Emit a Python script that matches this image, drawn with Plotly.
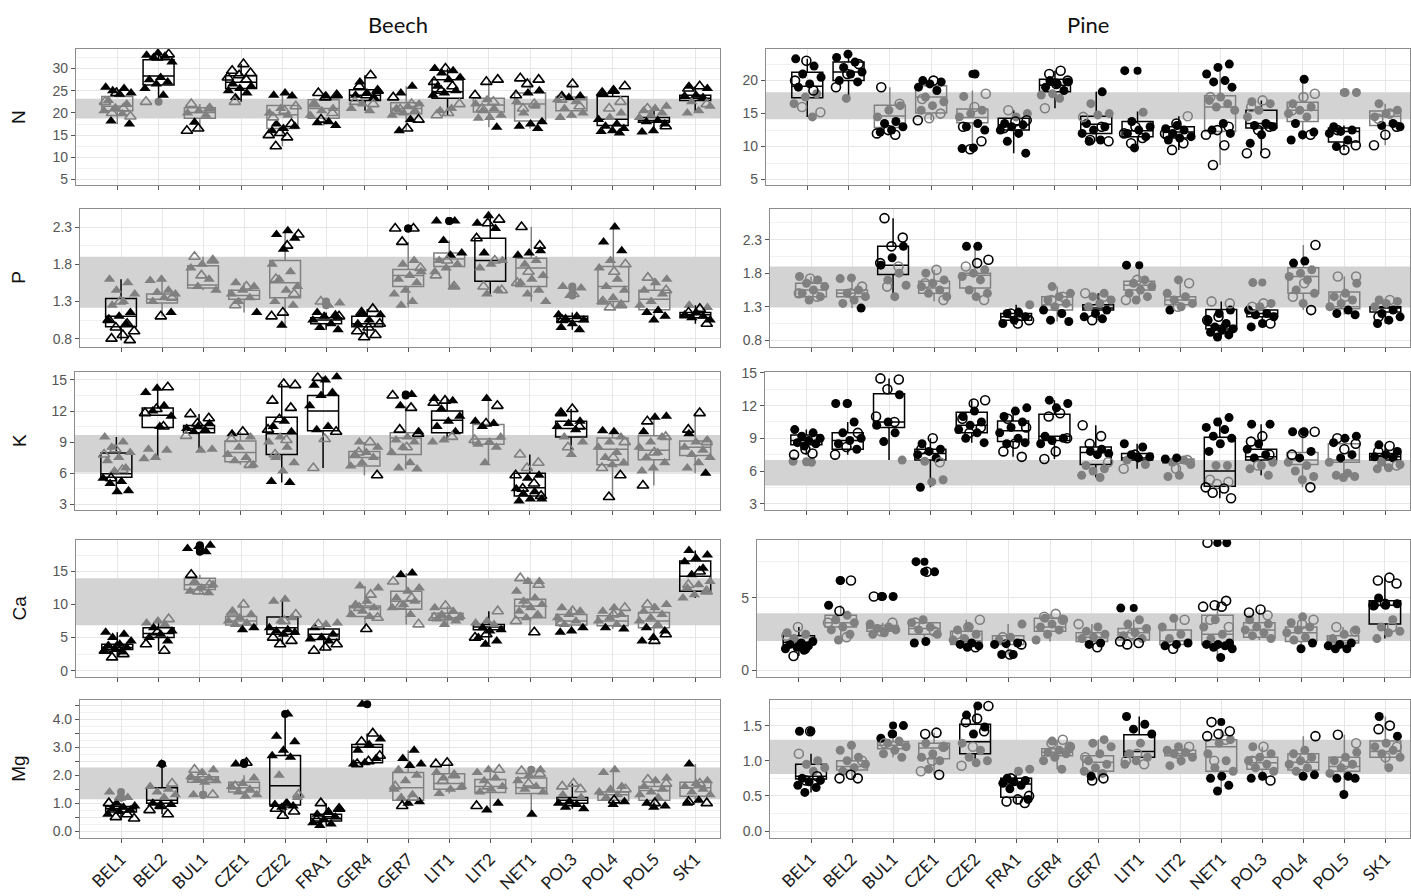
import plotly.graph_objects as go

# ---------------------------------------------------------------------------
# Foliar nutrient concentrations per site, beech and pine
# ---------------------------------------------------------------------------
SITES = ["BEL1", "BEL2", "BUL1", "CZE1", "CZE2", "FRA1", "GER4", "GER7",
         "LIT1", "LIT2", "NET1", "POL3", "POL4", "POL5", "SK1"]
ELEMENTS = ["N", "P", "K", "Ca", "Mg"]
SPECIES = ["Beech", "Pine"]

# reference range (lower, upper) per element and species
BANDS = {
    ("N", "Beech"): (18.75, 23.2), ("N", "Pine"): (14.15, 18.25),
    ("P", "Beech"): (1.215, 1.9), ("P", "Pine"): (1.29, 1.9),
    ("K", "Beech"): (6.07, 9.68), ("K", "Pine"): (4.66, 7.0),
    ("Ca", "Beech"): (6.85, 14.0), ("Ca", "Pine"): (2.03, 3.94),
    ("Mg", "Beech"): (1.14, 2.28), ("Mg", "Pine"): (0.81, 1.30),
}

# box statistics per site: lower whisker, Q1, median, Q3, upper whisker
N_BEECH_BOX = [[17.5, 20.5, 21.5, 23.7, 25.8], [23.5, 26.3, 28.3, 32.0, 33.5], [16.0, 18.8, 20.1, 21.2, 22.0],
               [22.5, 25.5, 26.9, 28.4, 31.0], [12.5, 16.5, 19.6, 21.7, 24.5], [17.2, 18.8, 21.0, 23.0, 24.5],
               [20.5, 22.8, 24.0, 25.2, 28.5], [16.0, 19.8, 21.0, 22.3, 26.0], [19.5, 23.3, 24.8, 27.5, 30.0],
               [16.8, 20.2, 21.8, 23.3, 27.5], [16.5, 18.2, 22.0, 24.5, 27.8], [19.0, 20.5, 23.0, 23.6, 26.5],
               [15.5, 17.2, 18.6, 23.7, 26.0], [15.7, 17.9, 18.3, 19.0, 21.5], [20.0, 22.8, 23.3, 24.0, 26.0]]
N_BEECH_FILLED = [[25.8, 25.5, 25.0, 24.5, 24.2, 22.8, 22.0, 21.2, 20.5, 19.8, 18.2, 17.5],
                  [33.5, 33.0, 32.8, 32.5, 31.5, 28.0, 27.5, 27.0, 26.5, 25.5, 24.0],
                  [21.0, 20.5, 20.0, 19.5, 17.9],
                  [26.5, 26.0, 25.5, 25.0, 24.5, 23.5],
                  [24.5, 24.0, 23.8, 21.0, 20.0, 19.5, 17.5, 17.0, 16.5, 16.0],
                  [24.0, 23.8, 22.0, 21.0, 20.5, 19.5, 18.0, 17.8, 17.2],
                  [27.0, 25.0, 24.5, 24.0, 23.5, 22.0, 21.0, 20.5],
                  [26.0, 24.5, 22.0, 21.5, 21.0, 20.5, 20.0, 19.5, 18.5, 16.0],
                  [30.0, 29.5, 29.0, 28.0, 27.5, 26.0, 25.0, 24.5, 24.0, 21.0, 20.5],
                  [23.0, 22.0, 21.0, 20.5, 19.5, 19.0, 18.8, 16.8],
                  [25.0, 24.5, 22.5, 21.5, 20.0, 18.0, 17.5, 17.0, 16.5],
                  [24.0, 23.8, 23.5, 23.0, 22.5, 21.0, 20.0, 19.5, 19.0],
                  [25.0, 24.5, 20.0, 19.0, 18.5, 17.5, 17.0, 16.5, 16.0, 15.8, 15.5],
                  [21.5, 21.0, 20.5, 20.0, 19.5, 19.0, 18.3, 18.0, 17.5, 16.0, 15.7],
                  [26.0, 25.5, 24.0, 23.8, 23.5, 22.5, 21.5, 20.5, 20.0]]
N_BEECH_OPEN = [[24.5, 22.5, 21.0, 20.0, 19.2], [33.2, 32.5, 22.5], [22.0, 21.0, 16.5, 16.0],
                [31.0, 29.5, 29.0, 28.5, 28.0, 27.5, 22.5], [21.5, 20.5, 19.0, 17.5, 15.5, 15.0, 14.5, 12.5],
                [24.5, 24.0, 23.5, 22.0, 20.0, 18.5], [28.5, 26.0, 25.0, 24.0, 22.5, 22.0],
                [23.5, 22.0, 20.8, 18.5, 16.5], [30.0, 27.0, 26.0, 25.0, 22.0, 20.0, 19.5],
                [27.5, 27.0, 24.0, 22.5, 21.0], [27.8, 27.5, 26.5, 24.0, 22.0, 21.0], [26.5, 23.0, 21.5],
                [26.0, 25.0, 24.5, 22.5, 21.0], [21.0, 17.0], [26.0, 25.5, 22.0]]

N_PINE_BOX = [[14.5, 17.4, 19.15, 21.25, 23.3], [17.3, 20.0, 21.3, 22.8, 24.0], [11.8, 12.9, 14.65, 16.25, 19.0],
              [14.0, 15.1, 17.5, 19.2, 20.0], [9.6, 13.6, 14.4, 15.7, 18.5], [9.0, 12.5, 13.3, 14.3, 15.5],
              [15.8, 18.3, 19.3, 20.2, 21.5], [10.8, 12.0, 13.4, 14.6, 18.3], [9.8, 11.5, 12.4, 13.8, 15.3],
              [9.5, 11.3, 12.2, 13.0, 14.6], [7.2, 12.3, 16.0, 17.7, 22.5], [9.0, 12.8, 13.5, 15.5, 17.0],
              [11.0, 13.8, 15.5, 16.7, 20.2], [9.5, 10.7, 12.3, 12.8, 13.2], [10.2, 13.2, 14.6, 15.4, 16.5]]
N_PINE_FILLED = [[23.3, 22.2, 21.0, 20.5, 19.5, 19.0, 18.0, 17.5, 16.5, 14.5],
                 [24.0, 23.5, 22.8, 22.0, 21.3, 21.0, 20.0, 19.8, 17.3],
                 [16.2, 15.5, 14.5, 13.8, 13.5, 13.0, 12.5, 12.2],
                 [20.0, 19.8, 19.5, 19.0, 18.5, 17.5, 16.8, 16.2, 15.5],
                 [21.0, 17.6, 15.5, 15.0, 14.5, 13.5, 13.0, 12.5, 9.8, 9.7],
                 [15.0, 14.5, 13.5, 13.3, 13.0, 12.5, 12.0, 10.8, 9.0],
                 [20.0, 19.8, 19.5, 19.0, 18.5, 18.0, 17.8, 17.3],
                 [18.3, 16.5, 15.0, 14.8, 13.5, 13.0, 12.5, 12.0, 11.0, 10.8],
                 [21.5, 15.2, 13.8, 13.0, 12.5, 12.0, 11.5, 9.8],
                 [13.2, 12.7, 12.5, 12.0, 11.5, 11.3, 11.0],
                 [22.5, 22.0, 21.0, 20.0, 19.8, 19.0, 17.5, 17.0, 16.5, 16.0, 15.5, 13.5, 12.5, 12.0],
                 [16.8, 16.5, 15.5, 14.5, 13.5, 13.2, 13.0, 11.8, 10.5],
                 [20.2, 16.5, 16.0, 15.5, 15.0, 14.5, 13.5, 12.2, 11.8, 11.0],
                 [18.2, 18.2, 13.0, 12.5, 12.3, 12.0, 11.0, 10.0],
                 [16.5, 15.5, 15.0, 14.5, 13.5, 13.2, 13.0]]
N_PINE_OPEN = [[23.0, 20.0, 18.5, 16.0, 15.2], [22.5, 21.0, 19.0], [19.0, 16.5, 12.5, 12.0, 11.8],
               [20.0, 17.2, 15.0, 14.3, 14.0], [18.0, 16.0, 13.0, 10.8, 9.6], [15.5, 14.0, 13.8, 12.8],
               [21.5, 21.0, 20.0, 19.5, 15.8], [14.5, 13.0, 11.0, 10.8], [13.0, 12.0, 11.3, 10.5],
               [14.6, 13.5, 12.0, 10.5, 9.5], [17.5, 13.0, 12.5, 11.8, 10.2, 7.2],
               [17.0, 16.0, 13.0, 12.5, 9.0, 9.0], [18.0, 17.5, 15.5, 11.8], [12.5, 10.2, 9.5],
               [15.0, 14.2, 13.0, 11.8, 10.2]]

P_BEECH_BOX = [[0.78, 0.96, 1.10, 1.34, 1.60], [1.10, 1.28, 1.33, 1.40, 1.60], [1.45, 1.48, 1.52, 1.78, 1.90],
               [1.15, 1.33, 1.38, 1.45, 1.55], [0.98, 1.35, 1.55, 1.85, 2.25], [0.92, 1.00, 1.05, 1.08, 1.15],
               [0.82, 0.96, 1.00, 1.10, 1.20], [1.22, 1.50, 1.65, 1.73, 2.10], [1.50, 1.77, 1.87, 1.95, 2.12],
               [1.40, 1.57, 1.85, 2.15, 2.45], [1.30, 1.50, 1.75, 1.88, 2.30], [0.92, 1.03, 1.07, 1.10, 1.15],
               [1.22, 1.30, 1.50, 1.77, 2.30], [1.05, 1.19, 1.33, 1.45, 1.62], [1.00, 1.08, 1.12, 1.15, 1.25]]
P_BEECH_FILLED = [[1.60, 1.55, 1.45, 1.40, 1.30, 1.25, 1.15, 1.10, 1.05, 1.00],
                  [1.60, 1.58, 1.45, 1.42, 1.40, 1.35, 1.30, 1.15],
                  [1.85, 1.80, 1.75, 1.60, 1.50, 1.45],
                  [1.55, 1.50, 1.45, 1.40, 1.35, 1.30, 1.15],
                  [2.25, 2.20, 2.15, 2.00, 1.80, 1.70, 1.60, 1.50, 1.45, 1.30, 1.25, 0.98],
                  [1.28, 1.25, 1.15, 1.12, 1.10, 1.05, 1.00, 0.95, 0.92],
                  [1.15, 1.12, 1.05, 1.00],
                  [1.85, 1.80, 1.70, 1.65, 1.60, 1.55, 1.45, 1.40, 1.30, 1.25],
                  [2.38, 2.38, 2.12, 1.95, 1.92, 1.85, 1.80, 1.75, 1.70, 1.50],
                  [2.45, 2.35, 2.28, 1.95, 1.85, 1.80, 1.75, 1.45, 1.40],
                  [1.98, 1.95, 1.92, 1.85, 1.80, 1.65, 1.60, 1.55, 1.45, 1.40, 1.30],
                  [1.50, 1.48, 1.38, 1.12, 1.10, 1.07, 1.05, 1.00, 0.95, 0.92],
                  [2.30, 2.10, 1.98, 1.85, 1.75, 1.60, 1.50, 1.45, 1.35, 1.30, 1.25],
                  [1.60, 1.55, 1.45, 1.40, 1.30, 1.25, 1.18, 1.15, 1.10, 1.05],
                  [1.25, 1.22, 1.15, 1.12, 1.10, 1.08, 1.05]]
P_BEECH_OPEN = [[1.30, 1.05, 1.00, 0.95, 0.90, 0.85, 0.80, 0.78], [1.35, 1.10], [1.90, 1.85, 1.65],
                [1.50, 1.25], [2.20, 2.05, 1.60, 1.40, 1.15, 1.10], [1.30, 1.10],
                [1.20, 1.15, 1.00, 0.95, 0.90, 0.85, 0.82], [2.28, 2.28, 2.10, 1.75], [1.85, 1.65, 1.50],
                [2.40, 2.35, 2.15, 1.85, 1.50, 1.45], [2.30, 2.05, 1.70, 1.55], [1.40, 1.05],
                [1.80, 1.70, 1.30, 1.25, 1.22], [1.62, 1.45], [1.20, 1.15, 1.00]]

P_PINE_BOX = [[1.37, 1.45, 1.55, 1.65, 1.75], [1.28, 1.45, 1.50, 1.55, 1.73], [1.45, 1.78, 1.92, 2.20, 2.62],
              [1.38, 1.50, 1.58, 1.68, 1.85], [1.40, 1.58, 1.77, 1.80, 2.20], [1.03, 1.10, 1.15, 1.20, 1.33],
              [1.08, 1.25, 1.33, 1.45, 1.60], [1.10, 1.25, 1.28, 1.33, 1.50], [1.40, 1.55, 1.62, 1.68, 1.88],
              [1.25, 1.33, 1.40, 1.45, 1.70], [0.85, 0.97, 1.02, 1.26, 1.38], [1.00, 1.15, 1.20, 1.25, 1.35],
              [1.25, 1.50, 1.75, 1.88, 2.22], [1.18, 1.27, 1.30, 1.52, 1.75], [1.05, 1.22, 1.28, 1.30, 1.40]]
P_PINE_FILLED = [[1.75, 1.70, 1.65, 1.60, 1.55, 1.50, 1.45, 1.40],
                 [1.73, 1.72, 1.55, 1.50, 1.45, 1.40, 1.35, 1.28],
                 [2.20, 2.03, 1.92, 1.80, 1.70, 1.62, 1.45],
                 [1.80, 1.70, 1.65, 1.60, 1.55, 1.50, 1.45],
                 [2.20, 2.20, 1.85, 1.80, 1.75, 1.70, 1.55, 1.50, 1.45],
                 [1.33, 1.22, 1.20, 1.15, 1.10, 1.05],
                 [1.60, 1.50, 1.45, 1.40, 1.35, 1.30, 1.25, 1.20, 1.10, 1.08],
                 [1.50, 1.45, 1.40, 1.35, 1.30, 1.25, 1.20, 1.15, 1.12],
                 [1.92, 1.70, 1.65, 1.60, 1.55, 1.50, 1.45, 1.40],
                 [1.70, 1.50, 1.45, 1.40, 1.35, 1.30, 1.25],
                 [1.25, 1.20, 1.10, 1.05, 1.00, 0.97, 0.95, 0.92, 0.88, 0.85],
                 [1.66, 1.35, 1.30, 1.25, 1.20, 1.18, 1.15, 1.05, 1.00],
                 [1.98, 1.95, 1.85, 1.80, 1.75, 1.70, 1.55, 1.50, 1.35],
                 [1.65, 1.50, 1.45, 1.40, 1.35, 1.30, 1.25, 1.20, 1.18],
                 [1.40, 1.38, 1.35, 1.30, 1.25, 1.20, 1.15, 1.10, 1.05]]
P_PINE_OPEN = [[1.72, 1.50, 1.45], [1.60, 1.50], [2.62, 2.33, 2.20, 1.95, 1.90, 1.60], [1.85, 1.65, 1.40],
               [2.00, 1.95, 1.90, 1.40], [1.20, 1.10, 1.05], [1.45, 1.40], [1.50, 1.45, 1.10], [1.70, 1.40],
               [1.65, 1.30], [1.38, 1.35, 1.15, 1.10, 1.00], [1.35, 1.30, 1.05], [2.22, 1.65, 1.45, 1.25],
               [1.75, 1.75, 1.45], [1.40, 1.15]]

K_BEECH_BOX = [[4.2, 5.6, 5.95, 7.95, 9.5], [7.4, 10.4, 11.6, 12.3, 14.3], [8.2, 9.9, 10.3, 10.6, 11.7],
               [6.8, 7.1, 8.0, 9.1, 10.0], [5.1, 7.8, 9.8, 11.4, 14.6], [6.5, 10.1, 12.0, 13.5, 15.3],
               [5.8, 6.7, 7.5, 8.1, 9.0], [6.4, 7.8, 9.4, 9.9, 12.5], [9.0, 9.9, 11.1, 12.0, 13.2],
               [7.0, 8.8, 9.3, 10.7, 13.2], [3.3, 3.8, 4.6, 6.0, 7.8], [7.8, 9.5, 10.3, 11.0, 12.2],
               [3.7, 6.8, 8.3, 9.4, 10.1], [4.8, 7.3, 8.2, 9.6, 11.5], [6.0, 7.7, 8.5, 9.1, 11.8]]
K_BEECH_FILLED = [[9.5, 9.0, 8.5, 8.0, 7.5, 7.2, 6.5, 6.2, 5.5, 5.2, 5.0, 4.3, 4.2],
                  [14.2, 13.8, 12.5, 12.0, 11.5, 10.5, 8.3, 8.2, 7.5, 7.4],
                  [10.8, 10.5, 10.3, 10.2, 10.0, 8.3, 8.2],
                  [9.8, 9.5, 8.5, 7.8, 7.5, 7.2, 6.8],
                  [11.0, 10.5, 10.0, 9.5, 9.0, 8.5, 7.5, 7.0, 6.2, 5.2, 5.1],
                  [15.3, 15.0, 14.5, 13.8, 13.5, 12.5, 10.5, 10.2],
                  [9.0, 8.5, 8.0, 7.8, 7.5, 7.0, 6.7],
                  [13.6, 12.5, 10.0, 9.5, 9.2, 9.0, 8.5, 8.0, 7.0, 6.5, 6.4],
                  [13.2, 13.0, 12.2, 11.5, 11.0, 10.5, 10.0, 9.2, 9.0],
                  [13.2, 11.0, 10.8, 10.5, 9.5, 9.0, 8.8, 8.5, 7.0],
                  [5.8, 5.5, 4.5, 4.2, 4.0, 3.5, 3.5, 3.3],
                  [11.8, 11.0, 10.8, 10.5, 10.2, 9.5, 9.0, 7.8],
                  [10.0, 10.1, 9.5, 9.0, 8.5, 8.0, 7.5, 7.0, 6.8],
                  [11.5, 11.4, 10.0, 9.5, 9.0, 8.5, 8.0, 7.5, 7.0, 6.5, 6.2],
                  [9.8, 9.2, 9.0, 8.5, 8.2, 7.8, 7.5, 7.0, 6.5, 6.0]]
K_BEECH_OPEN = [[8.3, 7.8, 6.3, 5.5], [14.3, 12.2, 11.8, 10.5], [11.7, 11.3, 10.8, 9.6], [10.0, 9.3, 6.8],
                [14.5, 14.6, 13.0, 12.3, 11.2, 10.2, 9.2, 7.8], [15.2, 10.0, 9.3, 6.5], [9.0, 8.0, 5.8],
                [13.5, 12.3, 10.2, 9.8, 8.5], [13.0, 12.8, 9.5], [12.5, 10.8, 9.2],
                [7.8, 7.0, 6.5, 5.8, 5.0, 4.5, 3.8], [12.2, 11.8, 10.5, 8.5], [9.0, 7.5, 6.5, 5.8, 3.7],
                [11.0, 9.5, 8.0, 4.8], [11.8, 10.2, 9.0]]

K_PINE_BOX = [[7.5, 8.4, 8.8, 9.3, 9.8], [7.5, 8.0, 8.8, 9.5, 10.5], [7.0, 10.0, 10.5, 13.1, 14.5],
              [4.5, 7.0, 7.6, 8.0, 9.0], [8.6, 9.5, 10.2, 11.4, 12.5], [7.3, 8.7, 9.7, 10.6, 11.8],
              [7.1, 8.8, 9.2, 11.2, 12.5], [5.4, 6.6, 7.7, 8.2, 10.2], [6.2, 7.0, 7.2, 7.6, 8.5],
              [5.5, 6.7, 7.0, 7.1, 7.2], [3.5, 4.6, 6.0, 9.1, 10.9], [5.6, 7.0, 7.3, 8.0, 10.3],
              [4.5, 6.6, 7.0, 7.7, 9.6], [5.4, 6.8, 7.0, 8.5, 9.2], [6.2, 7.0, 7.3, 7.6, 8.4]]
K_PINE_FILLED = [[9.8, 9.5, 9.2, 9.0, 8.8, 8.6, 8.5, 8.3, 6.9, 6.8],
                 [12.2, 12.2, 10.5, 9.5, 9.0, 8.8, 8.5, 8.0],
                 [13.0, 10.5, 10.2, 9.5, 8.7, 7.0],
                 [8.5, 8.0, 7.8, 7.5, 7.2, 6.9, 5.2, 5.0, 4.5],
                 [11.5, 11.0, 10.5, 10.2, 9.8, 9.5, 9.0, 8.6],
                 [11.8, 11.5, 11.0, 10.5, 10.0, 9.5, 9.0, 8.5, 8.6],
                 [12.5, 12.2, 11.8, 9.2, 9.0, 8.8, 8.5],
                 [8.0, 7.8, 7.6, 7.5, 6.5, 6.2, 6.0, 5.6, 5.4],
                 [8.5, 8.2, 7.5, 7.3, 7.2, 7.0, 6.6],
                 [7.2, 7.1, 7.0, 6.8, 6.6, 5.6, 5.5],
                 [10.9, 10.5, 10.0, 9.8, 9.2, 9.0, 8.5, 7.8, 6.5, 6.5],
                 [10.3, 10.3, 8.5, 8.0, 7.5, 7.2, 6.8, 6.5, 6.2, 5.6],
                 [9.6, 9.6, 7.8, 7.2, 6.8, 6.5, 6.0, 5.5, 5.2],
                 [9.2, 9.0, 8.6, 7.5, 7.2, 6.8, 5.8, 5.6, 5.5, 5.4],
                 [8.4, 7.8, 7.5, 7.3, 7.2, 6.8, 6.6, 6.3, 6.2]]
K_PINE_OPEN = [[8.0, 7.5, 7.6], [9.5, 8.2, 7.5], [14.5, 14.4, 13.5, 11.0, 10.5], [9.0, 8.0, 6.8],
               [12.5, 12.2, 10.8, 10.0, 9.5], [10.8, 10.0, 8.5, 7.8, 7.3], [11.3, 11.0, 9.0, 7.8, 7.1],
               [10.2, 9.2, 8.5, 6.8], [7.5, 6.2], [7.0, 6.2], [5.2, 5.0, 4.8, 4.5, 4.4, 4.0, 3.5],
               [9.2, 8.7, 7.5, 6.5], [9.6, 9.5, 7.5, 4.5], [9.0, 8.5, 8.0], [8.3, 7.8, 6.5]]

CA_BEECH_BOX = [[2.0, 3.2, 3.5, 4.0, 5.8], [3.0, 5.0, 5.6, 6.5, 7.8], [11.8, 12.3, 13.0, 14.0, 14.5],
                [6.2, 6.9, 7.5, 8.2, 10.0], [4.0, 5.5, 6.5, 8.1, 10.8], [3.0, 4.7, 5.5, 6.3, 7.2],
                [6.3, 8.2, 9.5, 9.8, 12.8], [7.0, 9.3, 10.5, 12.0, 14.8], [7.0, 7.7, 8.0, 8.7, 9.8],
                [4.0, 6.2, 6.6, 7.0, 9.0], [5.8, 8.0, 9.8, 10.8, 14.0], [5.8, 6.9, 7.5, 8.5, 9.5],
                [6.3, 6.8, 7.5, 8.3, 9.5], [4.5, 6.5, 7.5, 8.8, 10.2], [11.0, 12.0, 14.3, 16.6, 18.2]]
CA_BEECH_FILLED = [[5.8, 5.5, 5.0, 4.5, 4.0, 3.8, 3.5, 3.2, 3.0, 2.8],
                   [7.5, 7.2, 7.0, 6.5, 6.0, 5.5, 5.0, 4.5],
                   [19.0, 18.8, 18.5, 18.0, 13.5, 13.0, 12.5, 12.0, 11.8],
                   [9.0, 8.5, 8.0, 7.5, 7.2, 7.0, 6.5, 6.2],
                   [10.8, 10.5, 8.0, 7.5, 6.5, 6.2, 6.0, 5.8, 5.5],
                   [7.2, 7.0, 6.5, 5.5, 5.0, 4.8, 4.5],
                   [12.8, 12.5, 10.5, 10.0, 9.5, 9.0, 8.5, 8.2],
                   [14.8, 14.5, 12.5, 12.0, 11.0, 10.5, 10.0, 9.5, 8.5],
                   [9.5, 9.0, 8.5, 8.2, 8.0, 7.8, 7.5, 7.0],
                   [7.5, 7.2, 7.0, 6.5, 6.2, 6.0, 5.0, 4.5, 4.0],
                   [13.5, 13.5, 12.0, 11.0, 10.5, 10.0, 9.5, 9.0, 8.5, 8.0],
                   [9.5, 9.0, 8.5, 8.0, 7.5, 7.0, 6.5, 6.0, 5.8],
                   [9.5, 9.0, 8.5, 8.0, 7.5, 7.0, 6.5, 6.3],
                   [10.0, 9.5, 9.0, 8.5, 8.0, 7.5, 7.0, 6.5, 6.0, 5.0, 4.5],
                   [18.2, 17.5, 17.0, 16.5, 15.5, 14.5, 13.5, 13.0, 12.5, 12.0, 11.5, 11.0]]
CA_BEECH_OPEN = [[3.5, 3.0, 2.5, 2.0], [7.8, 5.8, 4.0, 3.0], [14.5, 13.0, 12.0], [10.0, 8.8],
                 [8.5, 7.5, 5.0, 4.5, 4.0], [7.0, 4.0, 3.5, 3.0], [11.5, 9.5, 8.0, 6.3],
                 [13.5, 11.0, 9.8, 7.0], [9.8, 8.0], [9.0, 5.5, 5.0], [14.0, 13.0, 10.0, 7.5, 5.8],
                 [9.0, 7.2], [9.5, 8.5], [10.0, 5.5, 4.5], [15.0, 13.0, 12.0]]

CA_PINE_BOX = [[1.0, 1.8, 1.95, 2.4, 3.0], [2.1, 3.0, 3.3, 3.8, 4.5], [2.5, 2.7, 2.9, 3.1, 3.3],
               [1.9, 2.5, 2.9, 3.3, 3.5], [1.6, 1.8, 2.05, 2.7, 3.5], [1.1, 1.8, 2.05, 2.4, 3.2],
               [2.0, 2.7, 3.0, 3.6, 3.9], [1.6, 2.0, 2.3, 2.6, 3.2], [1.8, 2.1, 2.6, 2.9, 3.5],
               [1.5, 1.8, 2.05, 2.8, 3.6], [0.9, 1.8, 2.5, 3.8, 4.8], [2.1, 2.3, 2.8, 3.3, 4.2],
               [1.5, 2.0, 2.6, 3.0, 3.7], [1.5, 1.9, 2.05, 2.4, 3.0], [2.2, 3.2, 4.5, 4.8, 6.4]]
CA_PINE_FILLED = [[2.6, 2.5, 2.2, 2.0, 1.9, 1.8, 1.7, 1.6, 1.5, 1.4],
                  [6.2, 4.5, 3.8, 3.5, 3.3, 3.0, 2.8, 2.5, 2.1],
                  [5.1, 5.1, 3.2, 3.0, 2.9, 2.8, 2.6, 2.5],
                  [7.5, 6.8, 3.5, 3.3, 3.0, 2.8, 2.5, 2.0, 1.9],
                  [3.0, 2.8, 2.5, 2.2, 2.1, 1.9, 1.8, 1.7, 1.6],
                  [3.2, 2.3, 2.1, 1.9, 1.85, 1.8, 1.1, 1.1],
                  [3.6, 3.5, 3.2, 3.0, 2.8, 2.5, 2.1],
                  [3.0, 2.7, 2.5, 2.3, 2.2, 1.9, 1.8],
                  [4.3, 3.5, 3.2, 2.9, 2.6, 2.4, 2.2],
                  [3.6, 3.0, 2.5, 2.2, 1.9, 1.8, 1.7],
                  [8.8, 3.5, 3.0, 2.5, 2.2, 1.9, 1.8, 1.8, 1.7, 1.6, 1.5, 0.9],
                  [3.5, 3.2, 3.0, 2.8, 2.6, 2.4, 2.2],
                  [3.7, 3.3, 3.0, 2.8, 2.6, 2.3, 2.1, 1.9, 1.5],
                  [2.8, 2.5, 2.2, 1.9, 1.8, 1.7, 1.5, 1.5],
                  [5.0, 4.6, 4.5, 4.5, 3.5, 3.0, 2.7, 2.6, 2.2]]
CA_PINE_OPEN = [[3.0, 2.4, 1.5, 1.0], [6.2, 4.1, 3.3, 2.3], [5.1, 3.3, 2.7], [6.8, 3.3, 2.7],
                [3.5, 3.0, 2.5, 1.6], [2.3, 1.8, 1.1], [3.9, 3.7, 3.5], [3.2, 1.6], [2.5, 2.0, 1.9, 1.8],
                [3.5, 1.5], [8.8, 4.8, 4.5, 4.4, 4.4, 3.5, 3.0], [4.2, 4.0, 3.8], [3.5, 3.2], [3.0, 2.7],
                [6.4, 6.2, 6.0, 4.6, 4.5, 3.0]]

MG_BEECH_BOX = [[0.45, 0.68, 0.80, 0.88, 1.0], [0.6, 1.0, 1.1, 1.55, 2.3], [1.4, 1.75, 1.85, 1.95, 2.2],
                [1.25, 1.4, 1.55, 1.75, 2.0], [0.55, 0.93, 1.62, 2.71, 4.15], [0.2, 0.36, 0.45, 0.6, 1.0],
                [2.4, 2.45, 3.0, 3.1, 3.5], [0.9, 1.1, 1.55, 2.1, 2.9], [1.35, 1.5, 1.7, 2.05, 2.45],
                [0.75, 1.38, 1.6, 1.85, 2.2], [0.6, 1.35, 1.55, 1.9, 2.15], [0.8, 1.0, 1.1, 1.2, 1.7],
                [0.95, 1.1, 1.3, 1.4, 2.2], [0.85, 1.1, 1.45, 1.6, 1.9], [1.0, 1.25, 1.55, 1.75, 2.4]]
MG_BEECH_FILLED = [[1.4, 1.2, 1.0, 0.9, 0.85, 0.8, 0.75, 0.7, 0.6],
                   [2.4, 1.6, 1.5, 1.4, 1.3, 1.2, 1.0, 0.95, 0.9],
                   [2.2, 2.1, 1.95, 1.9, 1.85, 1.8, 1.75, 1.3],
                   [2.4, 1.9, 1.7, 1.6, 1.5, 1.4, 1.3, 1.25],
                   [4.2, 3.4, 3.2, 2.9, 2.7, 2.65, 2.0, 1.2, 1.0, 0.95, 0.9, 0.85],
                   [0.8, 0.7, 0.6, 0.5, 0.4, 0.3, 0.25, 0.2],
                   [4.55, 3.3, 3.1, 2.9, 2.6, 2.45, 2.4],
                   [2.9, 2.6, 2.4, 2.35, 2.2, 2.0, 1.8, 1.5, 1.3, 1.2, 1.05, 1.0],
                   [2.1, 2.0, 1.9, 1.6, 1.5, 1.35],
                   [2.2, 2.1, 1.9, 1.8, 1.6, 1.5, 1.4, 1.0, 0.75],
                   [2.2, 2.0, 1.8, 1.6, 1.5, 1.4, 0.6],
                   [1.3, 1.2, 1.05, 1.0, 0.95, 0.85, 0.8],
                   [2.2, 2.1, 1.6, 1.5, 1.4, 1.3, 1.2, 1.05, 0.95],
                   [1.9, 1.8, 1.6, 1.5, 1.4, 1.3, 1.2, 1.0, 0.9, 0.85],
                   [2.4, 1.8, 1.7, 1.6, 1.5, 1.4, 1.3, 1.1, 1.0]]
MG_BEECH_OPEN = [[1.2, 1.0, 0.6, 0.5, 0.45], [1.7, 0.9, 0.75, 0.6], [2.2, 1.3], [2.45, 1.6],
                 [1.3, 0.95, 0.8, 0.7, 0.55], [1.0, 0.8, 0.6, 0.4], [3.5, 3.2, 2.7, 2.5, 2.4],
                 [1.6, 1.2, 0.9], [2.45, 2.4, 2.0, 1.8], [2.2, 1.6, 0.9], [2.15, 2.05, 1.7],
                 [1.7, 1.6, 1.5, 1.0], [1.5, 1.1], [1.85, 1.7, 1.0], [1.7, 1.05, 1.0]]

MG_PINE_BOX = [[0.55, 0.74, 0.78, 0.95, 1.1], [0.75, 0.87, 0.92, 1.0, 1.22], [1.05, 1.17, 1.22, 1.27, 1.32],
               [0.8, 1.03, 1.18, 1.25, 1.4], [0.93, 1.1, 1.27, 1.52, 1.78], [0.4, 0.48, 0.67, 0.75, 0.9],
               [0.88, 1.07, 1.12, 1.17, 1.3], [0.72, 0.85, 0.98, 1.07, 1.3], [0.95, 1.05, 1.13, 1.37, 1.63],
               [0.93, 1.07, 1.1, 1.15, 1.2], [0.57, 0.85, 1.2, 1.3, 1.45], [0.72, 0.88, 0.97, 1.05, 1.2],
               [0.78, 0.87, 0.98, 1.1, 1.35], [0.52, 0.85, 0.92, 1.05, 1.37], [0.9, 1.05, 1.13, 1.28, 1.63]]
MG_PINE_FILLED = [[1.42, 1.0, 0.95, 0.9, 0.85, 0.75, 0.72, 0.7, 0.65, 0.62, 0.55],
                  [1.22, 1.15, 1.05, 1.0, 0.95, 0.9, 0.85],
                  [1.5, 1.38, 1.32, 1.28, 1.25, 1.2, 1.15, 1.1, 1.05],
                  [1.25, 1.2, 1.1, 1.05, 1.0, 0.88],
                  [1.78, 1.65, 1.48, 1.38, 1.25, 1.15, 1.05, 1.0, 0.97],
                  [0.88, 0.85, 0.75, 0.72, 0.7, 0.68, 0.65, 0.6, 0.45],
                  [1.28, 1.2, 1.15, 1.12, 1.1, 1.05, 1.0, 0.88],
                  [1.3, 1.25, 1.2, 1.1, 1.0, 0.95, 0.9, 0.85, 0.82, 0.78],
                  [1.63, 1.52, 1.45, 1.38, 1.25, 1.1, 1.05, 1.0, 0.95],
                  [1.2, 1.15, 1.12, 1.1, 1.05, 1.0, 0.93],
                  [1.3, 1.25, 1.1, 1.0, 0.9, 0.85, 0.78, 0.75, 0.65, 0.57],
                  [1.2, 1.1, 1.05, 1.0, 0.95, 0.9, 0.85, 0.78, 0.75],
                  [1.15, 1.1, 1.05, 1.0, 0.95, 0.9, 0.85, 0.8, 0.78],
                  [1.12, 1.05, 1.0, 0.95, 0.9, 0.82, 0.78, 0.75, 0.75, 0.52],
                  [1.63, 1.35, 1.25, 1.2, 1.15, 1.1, 1.05, 0.9]]
MG_PINE_OPEN = [[1.42, 1.1, 0.78, 0.72], [1.0, 0.8, 0.75, 0.75], [1.25], [1.4, 1.38, 1.2, 1.0, 0.85, 0.8],
                [1.78, 1.6, 1.55, 1.42, 1.2, 0.93], [0.75, 0.5, 0.45, 0.42, 0.4], [1.3, 1.25, 1.2],
                [1.05, 0.75, 0.72], [1.1, 1.0, 0.95], [1.2, 1.1], [1.55, 1.42, 1.38, 1.35, 1.3, 1.0],
                [1.2, 1.0, 0.72], [1.35, 1.05], [1.37, 1.25, 0.95], [1.5, 1.45, 1.2, 1.05]]

DATA = {
    ("N", "Beech"): (N_BEECH_BOX, N_BEECH_FILLED, N_BEECH_OPEN),
    ("N", "Pine"): (N_PINE_BOX, N_PINE_FILLED, N_PINE_OPEN),
    ("P", "Beech"): (P_BEECH_BOX, P_BEECH_FILLED, P_BEECH_OPEN),
    ("P", "Pine"): (P_PINE_BOX, P_PINE_FILLED, P_PINE_OPEN),
    ("K", "Beech"): (K_BEECH_BOX, K_BEECH_FILLED, K_BEECH_OPEN),
    ("K", "Pine"): (K_PINE_BOX, K_PINE_FILLED, K_PINE_OPEN),
    ("Ca", "Beech"): (CA_BEECH_BOX, CA_BEECH_FILLED, CA_BEECH_OPEN),
    ("Ca", "Pine"): (CA_PINE_BOX, CA_PINE_FILLED, CA_PINE_OPEN),
    ("Mg", "Beech"): (MG_BEECH_BOX, MG_BEECH_FILLED, MG_BEECH_OPEN),
    ("Mg", "Pine"): (MG_PINE_BOX, MG_PINE_FILLED, MG_PINE_OPEN),
}

# boxes drawn dark regardless of where their median falls
DARK_BOXES = {("P", "Beech"): {"LIT2"}, ("K", "Pine"): {"NET1"},
              ("Mg", "Beech"): {"CZE2"}, ("Mg", "Pine"): {"CZE2", "LIT1"}}

# ---------------------------------------------------------------------------
# axis settings
# ---------------------------------------------------------------------------
Y_RANGE = {
    ("N", "Beech"): [3.73, 34.5], ("N", "Pine"): [4.15, 24.85],
    ("P", "Beech"): [0.694, 2.543], ("P", "Pine"): [0.707, 2.757],
    ("K", "Beech"): [2.45, 15.74], ("K", "Pine"): [2.43, 15.06],
    ("Ca", "Beech"): [-1.0, 19.84], ("Ca", "Pine"): [-0.46, 9.02],
    ("Mg", "Beech"): [-0.235, 4.70], ("Mg", "Pine"): [-0.093, 1.865],
}
Y_MAJOR = {
    ("N", "Beech"): [5, 10, 15, 20, 25, 30], ("N", "Pine"): [5, 10, 15, 20],
    ("P", "Beech"): [0.8, 1.3, 1.8, 2.3], ("P", "Pine"): [0.8, 1.3, 1.8, 2.3],
    ("K", "Beech"): [3, 6, 9, 12, 15], ("K", "Pine"): [3, 6, 9, 12, 15],
    ("Ca", "Beech"): [0, 5, 10, 15], ("Ca", "Pine"): [0, 5],
    ("Mg", "Beech"): [0, 0.5, 1, 1.5, 2, 2.5, 3, 3.5, 4, 4.5], ("Mg", "Pine"): [0, 0.5, 1.0, 1.5],
}
Y_LABELS = {
    ("N", "Beech"): ["5", "10", "15", "20", "25", "30"], ("N", "Pine"): ["5", "10", "15", "20"],
    ("P", "Beech"): ["0.8", "1.3", "1.8", "2.3"], ("P", "Pine"): ["0.8", "1.3", "1.8", "2.3"],
    ("K", "Beech"): ["3", "6", "9", "12", "15"], ("K", "Pine"): ["3", "6", "9", "12", "15"],
    ("Ca", "Beech"): ["0", "5", "10", "15"], ("Ca", "Pine"): ["0", "5"],
    ("Mg", "Beech"): ["0.0", "", "1.0", "", "2.0", "", "3.0", "", "4.0", ""],
    ("Mg", "Pine"): ["0.0", "0.5", "1.0", "1.5"],
}
Y_MINOR = {
    ("N", "Beech"): [7.5, 12.5, 17.5, 22.5, 27.5, 32.5], ("N", "Pine"): [7.5, 12.5, 17.5, 22.5],
    ("P", "Beech"): [1.05, 1.55, 2.05], ("P", "Pine"): [1.05, 1.55, 2.05, 2.55],
    ("K", "Beech"): [4.5, 7.5, 10.5, 13.5], ("K", "Pine"): [4.5, 7.5, 10.5, 13.5],
    ("Ca", "Beech"): [2.5, 7.5, 12.5, 17.5], ("Ca", "Pine"): [2.5, 7.5],
    ("Mg", "Beech"): [0.25, 0.75, 1.25, 1.75, 2.25, 2.75, 3.25, 3.75, 4.25],
    ("Mg", "Pine"): [0.25, 0.75, 1.25, 1.75],
}

# panel placement in pixels
W, H = 1411, 896
ROW_PX = {"N": (42, 180), "P": (204, 343), "K": (369, 508), "Ca": (538, 677), "Mg": (700, 839)}
LEFT_PX = {
    ("N", "Beech"): 76, ("P", "Beech"): 80, ("K", "Beech"): 75, ("Ca", "Beech"): 76, ("Mg", "Beech"): 80,
    ("N", "Pine"): 766, ("P", "Pine"): 770, ("K", "Pine"): 765, ("Ca", "Pine"): 757, ("Mg", "Pine"): 770,
}
RIGHT_PX = {"Beech": 720, "Pine": 1410}
X_RANGE = [-1.0, 14.6]

BLACK = "#000000"
GREY = "#808080"
BAND_FILL = "#d3d3d3"
GRID = "#e6e6e6"
GRID_MINOR = "#f1f1f1"
FRAME = "#8c8c8c"
TICK_FONT = dict(family="Liberation Sans, Arial, sans-serif", size=14, color="#555555")


def spread(n, phase):
    """Evenly scattered horizontal offsets so overlapping points stay visible."""
    return [((k * 0.61803398875 + phase) % 1.0 - 0.5) * 0.72 for k in range(n)]


fig = go.Figure()
annotations = []
layout_axes = {}

panel = 0
for elem in ELEMENTS:
    for sp in SPECIES:
        panel += 1
        key = (elem, sp)
        xa = "x" if panel == 1 else f"x{panel}"
        ya = "y" if panel == 1 else f"y{panel}"
        box, filled, opened = DATA[key]
        lo, hi = BANDS[key]

        def in_band(v, lo=lo, hi=hi):
            return lo <= v <= hi

        # reference band: one bar spanning the panel, above the grid and beneath the boxes
        fig.add_trace(go.Bar(
            x=[(X_RANGE[0] + X_RANGE[1]) / 2], y=[hi - lo], base=[lo],
            width=[X_RANGE[1] - X_RANGE[0]], marker=dict(color=BAND_FILL, line=dict(width=0)),
            xaxis=xa, yaxis=ya, showlegend=False, hoverinfo="skip"))

        # box plots, one trace per outline colour
        for colour in (GREY, BLACK):
            idx = []
            for i, s in enumerate(SITES):
                dark = (not in_band(box[i][2])) or s in DARK_BOXES.get(key, set())
                if (colour == BLACK) == dark:
                    idx.append(i)
            if not idx:
                continue
            fig.add_trace(go.Box(
                x=idx,
                lowerfence=[box[i][0] for i in idx], q1=[box[i][1] for i in idx],
                median=[box[i][2] for i in idx], q3=[box[i][3] for i in idx],
                upperfence=[box[i][4] for i in idx],
                width=0.75, whiskerwidth=0, boxpoints=False,
                fillcolor="rgba(0,0,0,0)", line=dict(color=colour, width=1.5),
                xaxis=xa, yaxis=ya, showlegend=False, hoverinfo="skip"))

        # outliers beyond the whiskers, drawn at the box centre
        ox, oy, oc = [], [], []
        for i in range(len(SITES)):
            for v in filled[i] + opened[i]:
                if v < box[i][0] or v > box[i][4]:
                    ox.append(i)
                    oy.append(v)
                    oc.append(GREY if in_band(v) else BLACK)
        if ox:
            fig.add_trace(go.Scatter(x=ox, y=oy, mode="markers", xaxis=xa, yaxis=ya,
                                     marker=dict(symbol="circle", size=8, color=oc, line=dict(width=0)),
                                     showlegend=False, hoverinfo="skip"))

        # individual samples
        shape = "triangle-up" if sp == "Beech" else "circle"
        size = 10 if sp == "Beech" else 9
        for kind, values, phase0 in (("filled", filled, 0.11), ("open", opened, 0.47)):
            for colour in (GREY, BLACK):
                px, py = [], []
                for i in range(len(SITES)):
                    offs = spread(len(values[i]), phase0 + 0.37 * i)
                    for v, d in zip(values[i], offs):
                        if (GREY if in_band(v) else BLACK) == colour:
                            px.append(i + d)
                            py.append(v)
                if not px:
                    continue
                if kind == "filled":
                    mk = dict(symbol=shape, size=size, color=colour, line=dict(width=0))
                else:
                    mk = dict(symbol=shape + "-open", size=size, color=colour, line=dict(width=1.6, color=colour))
                fig.add_trace(go.Scatter(x=px, y=py, mode="markers", xaxis=xa, yaxis=ya, marker=mk,
                                         showlegend=False, hoverinfo="skip"))

        top, bottom = ROW_PX[elem]
        left, right = LEFT_PX[key], RIGHT_PX[sp]
        xname = "xaxis" if panel == 1 else f"xaxis{panel}"
        yname = "yaxis" if panel == 1 else f"yaxis{panel}"
        layout_axes[xname] = dict(
            domain=[left / W, right / W], range=X_RANGE, anchor=ya,
            tickmode="array", tickvals=list(range(len(SITES))), ticktext=SITES,
            showticklabels=(elem == "Mg"), tickangle=-45,
            tickfont=dict(family="Lato, Open Sans, sans-serif", size=17, color="#1a1a1a"),
            ticks="outside", ticklen=4, tickcolor="#555555", tickwidth=1,
            showgrid=True, gridcolor=GRID, gridwidth=1, zeroline=False,
            showline=True, mirror=True, linecolor=FRAME, linewidth=1.2)
        layout_axes[yname] = dict(
            domain=[1 - bottom / H, 1 - top / H], range=Y_RANGE[key], anchor=xa,
            tickmode="array", tickvals=Y_MAJOR[key], ticktext=Y_LABELS[key], tickfont=TICK_FONT,
            ticks="outside", ticklen=4, tickcolor="#555555", tickwidth=1,
            showgrid=True, gridcolor=GRID, gridwidth=1, zeroline=False,
            minor=dict(tickvals=Y_MINOR[key], showgrid=True, gridcolor=GRID_MINOR, gridwidth=1),
            showline=True, mirror=True, linecolor=FRAME, linewidth=1.2)

# column titles
for sp in SPECIES:
    cx = (LEFT_PX[("N", sp)] + RIGHT_PX[sp]) / 2 / W
    annotations.append(dict(text=sp, x=cx, y=1 - 18 / H, xref="paper", yref="paper",
                            showarrow=False, xanchor="center", yanchor="middle",
                            font=dict(family="Lato, Open Sans, sans-serif", size=22, color="#111111")))

# row labels
for elem in ELEMENTS:
    top, bottom = ROW_PX[elem]
    annotations.append(dict(text=elem, x=19 / W, y=1 - (top + bottom) / 2 / H, xref="paper", yref="paper",
                            showarrow=False, xanchor="center", yanchor="middle", textangle=-90,
                            font=dict(family="Liberation Sans, Arial, sans-serif", size=19, color="#111111")))

fig.update_layout(
    width=W, height=H, margin=dict(l=0, r=0, t=0, b=0),
    paper_bgcolor="white", plot_bgcolor="white",
    showlegend=False, boxmode="overlay", barmode="overlay",
    annotations=annotations,
    **layout_axes)

fig.write_html("out.html", post_script="document.body.style.margin = '0';")
